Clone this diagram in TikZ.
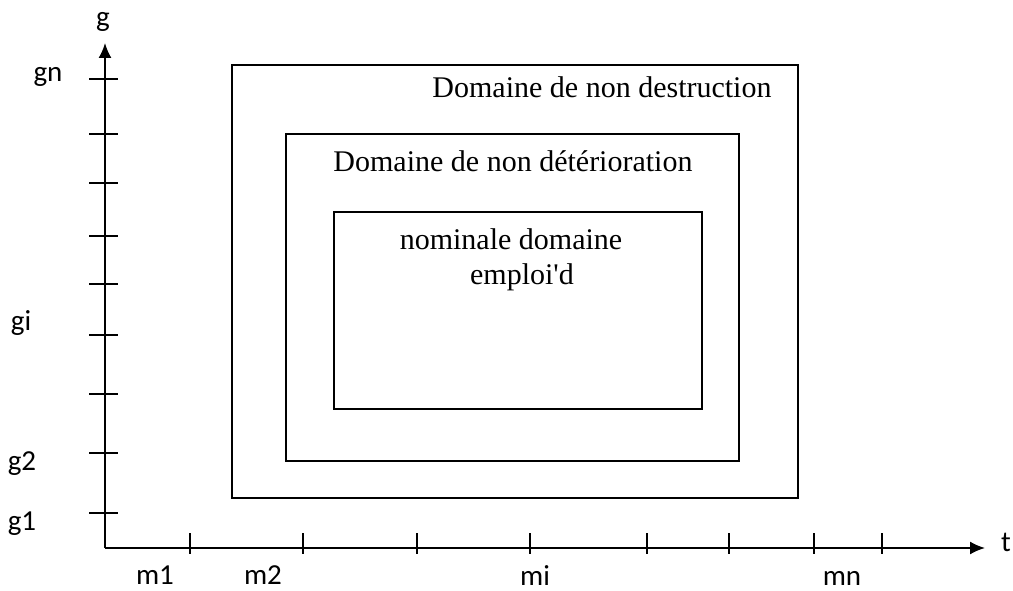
\documentclass[tikz,border=0pt]{standalone}
\usepackage{fontspec}
\setmainfont{Liberation Serif}[Ligatures=TeXOff]
\newfontfamily\axisfont{Carlito}
\usetikzlibrary{arrows.meta}
\tikzset{
  axisline/.style={line width=1.8pt, -{Latex[length=15pt,width=13pt]}},
  tickline/.style={line width=1.6pt},
  domainbox/.style={line width=1.8pt},
  boxlabel/.style={anchor=base, inner sep=0pt, font=\fontsize{30}{34}\selectfont},
  axislabel/.style={anchor=base, inner sep=0pt, font=\axisfont\fontsize{29}{32}\selectfont},
}
\begin{document}
\begin{tikzpicture}[x=1pt,y=-1pt]
\useasboundingbox (0,0) rectangle (1013,591);
% axes
\coordinate (O) at (105,548);
\coordinate (ytop) at (105,43);
\coordinate (xend) at (985,548);
\draw[axisline] (O) -- (ytop);
\draw[axisline] (O) -- (xend);
% y ticks
\foreach \yy in {79,134,183,236,284,335,394,453,513}
  \draw[tickline] (89,\yy) -- (118,\yy);
% x ticks
\foreach \xx in {190,303,417,530,647,729,814,882}
  \draw[tickline] (\xx,533) -- (\xx,554);
% labels
\node[axislabel] (lg) at (103,27) {g};
\node[axislabel] (lgn) at (48,82) {gn};
\node[axislabel] (lgi) at (21,330) {gi};
\node[axislabel] (lg2) at (22,470) {g2};
\node[axislabel] (lg1) at (22,530) {g1};
\node[axislabel] (lm1) at (155,584) {m1};
\node[axislabel] (lm2) at (263,584) {m2};
\node[axislabel] (lmi) at (535,585) {mi};
\node[axislabel] (lmn) at (842,585) {mn};
\node[axislabel] (lt) at (1006,551) {t};
% domains
\draw[domainbox] (232,65) rectangle (798,498);
\draw[domainbox] (286,134) rectangle (739,461);
\draw[domainbox] (334,212) rectangle (702,409);
\node[boxlabel] (destr) at (602,98) {Domaine de non destruction};
\node[boxlabel] (deter) at (513,172) {Domaine de non détérioration};
\node[boxlabel] (nom1) at (511,250) {nominale domaine};
\node[boxlabel] (nom2) at (522,284) {emploi'd};
\end{tikzpicture}
\end{document}
